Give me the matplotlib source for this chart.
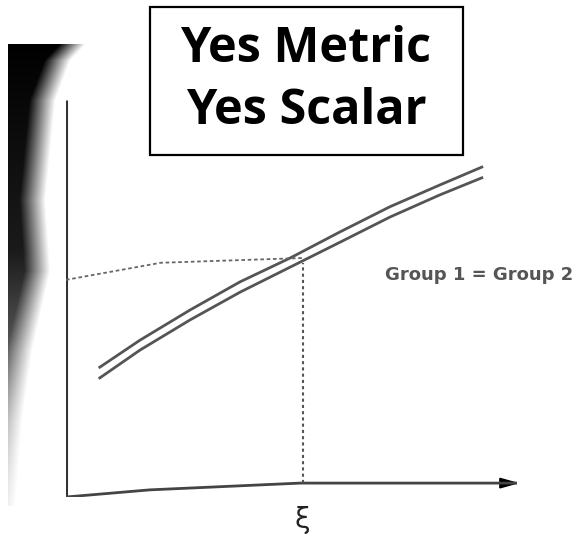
import numpy as np
import matplotlib
matplotlib.use("Agg")
import matplotlib.pyplot as plt
from matplotlib.patches import Rectangle

# the two group curves, xi on the x axis
xi = [0.75, 1.64, 2.75, 3.86, 4.97, 6.08, 7.18, 8.29, 9.22]
group1 = [3.27, 3.95, 4.71, 5.42, 6.02, 6.68, 7.31, 7.86, 8.31]
group2 = [3.00, 3.70, 4.46, 5.16, 5.79, 6.42, 7.05, 7.61, 8.04]

# crossing point and the dotted guides
xi_star = 5.25
guide_x = [0.0, 2.1, 5.25]
guide_y = [5.47, 5.90, 6.02]
cross_y = 5.89

# hand drawn x axis
axis_x = [0.0, 1.86, 5.19, 10.0]
axis_y = [0.0, 0.18, 0.35, 0.35]

title_lines = ["Yes Metric", "Yes Scalar"]
curve_label = "Group 1 = Group 2"
x_label = "ξ"

W, H = 578, 540
fig = plt.figure(figsize=(W / 100, H / 100), dpi=100)

# background layer in pixel units: scan shadow on the left and title box
bg = fig.add_axes([0, 0, 1, 1])
bg.set_xlim(0, W)
bg.set_ylim(H, 0)
bg.axis("off")

yy, xx = np.mgrid[0:H, 0:W]
edge_rows = [44, 60, 100, 200, 270, 350, 420, 500]
edge_vals = [85, 70, 55, 45, 50, 32, 22, 16]
edge = np.interp(yy, edge_rows, edge_vals)
strength = np.interp(yy, [44, 250, 350, 505], [1.0, 0.9, 0.65, 0.2])
alpha = np.clip((edge - xx) / 26.0, 0, 1) * strength
alpha[(yy < 44) | (yy > 505) | (xx < 8)] = 0
img = np.zeros((H, W, 4))
img[..., 3] = alpha
bg.imshow(img, extent=(0, W, H, 0), interpolation="bilinear", zorder=0)

bg.add_patch(Rectangle((150, 7), 313, 148, fill=False, ec="black", lw=1.6, zorder=2))
bg.text(306, 50, title_lines[0], ha="center", va="center", fontsize=35,
        fontweight="bold", family="Open Sans", zorder=3)
bg.text(306, 112, title_lines[1], ha="center", va="center", fontsize=35,
        fontweight="bold", family="Open Sans", zorder=3)

# chart layer
ax = fig.add_axes([66 / W, (H - 497) / H, (517 - 66) / W, (497 - 100) / H])
ax.set_xlim(0, 10)
ax.set_ylim(0, 10)
ax.axis("off")
ax.patch.set_alpha(0)

gray = "#555555"
ax.plot([0, 0], [0, 10], color="#333333", lw=2.2, solid_capstyle="butt")
ax.plot(axis_x, axis_y, color="#444444", lw=2.0)
ax.fill([10.0, 9.62, 9.62], [0.35, 0.47, 0.23], color="black")

ax.plot(xi, group1, color=gray, lw=2.0)
ax.plot(xi, group2, color=gray, lw=2.0)

ax.plot(guide_x, guide_y, color="#666666", lw=1.3, ls=(0, (2, 1.5)))
ax.plot([xi_star, xi_star], [axis_y[2], cross_y], color="#555555", lw=1.5,
        ls=(0, (1.5, 1.5)))

ax.text(7.07, 5.59, curve_label, ha="left", va="center", fontsize=13,
        fontweight="bold", color="#555555", family="DejaVu Sans")
ax.text(xi_star, -0.58, x_label, ha="center", va="center", fontsize=20,
        family="DejaVu Sans", color="#222222", clip_on=False)

fig.savefig("out.png", dpi=100)
